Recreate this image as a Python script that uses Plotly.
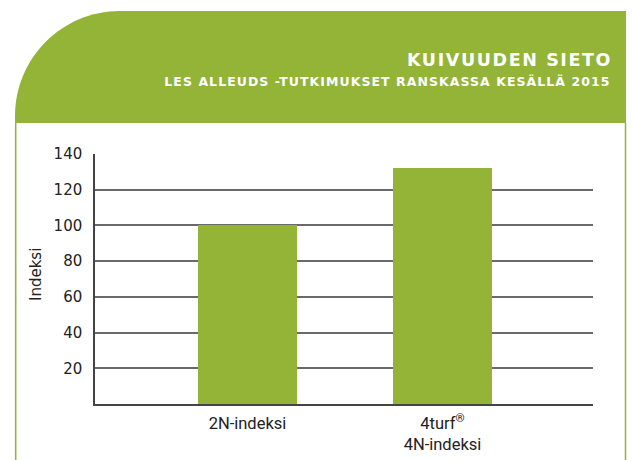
import plotly.graph_objects as go

categories = ["2N-indeksi", "4turf<sup>®</sup><br>4N-indeksi"]
values = [100, 132]
y_ticks = [20, 40, 60, 80, 100, 120, 140]
title_text = "KUIVUUDEN SIETO"
subtitle_text = "LES ALLEUDS -TUTKIMUKSET RANSKASSA KESÄLLÄ 2015"
y_title = "Indeksi"

GREEN = "#93b437"
W, H = 632, 460
L, R, T, B = 95, 593, 154, 404


def px(x):
    return (x - L) / (R - L)


def py(y):
    return (B - y) / (B - T)


positions = list(range(len(categories)))

fig = go.Figure(
    go.Bar(
        x=positions,
        y=values,
        width=0.508,
        marker=dict(color=GREEN, line=dict(width=0)),
        hoverinfo="skip",
    )
)

# header with rounded top-left corner
hx0, hx1, hy0, hy1, r = 15, 626, 11, 123, 105
k = 0.5523 * r
path = (
    f"M {px(hx0)},{py(hy1)} "
    f"L {px(hx0)},{py(hy0 + r)} "
    f"C {px(hx0)},{py(hy0 + r - k)} {px(hx0 + r - k)},{py(hy0)} {px(hx0 + r)},{py(hy0)} "
    f"L {px(hx1)},{py(hy0)} L {px(hx1)},{py(hy1)} Z"
)
shapes = [
    dict(type="path", xref="paper", yref="paper", path=path,
         fillcolor=GREEN, line=dict(width=0), layer="below"),
    dict(type="line", xref="paper", yref="paper", x0=px(15.7), x1=px(15.7),
         y0=py(hy1), y1=py(462), line=dict(color=GREEN, width=1.5)),
    dict(type="line", xref="paper", yref="paper", x0=px(625.5), x1=px(625.5),
         y0=py(hy1), y1=py(462), line=dict(color=GREEN, width=1.5)),
]

LS_TITLE, LS_SUB = 1.6, 1.05
annotations = [
    dict(text=title_text, xref="paper", yref="paper",
         x=px(612 - len(title_text) * LS_TITLE / 2 + LS_TITLE), y=py(59.5),
         xanchor="right", yanchor="middle", showarrow=False,
         font=dict(family="DejaVu Sans", size=17.5, color="white", weight="bold")),
    dict(text=subtitle_text, xref="paper", yref="paper",
         x=px(612 - len(subtitle_text) * LS_SUB / 2 + LS_SUB), y=py(82),
         xanchor="right", yanchor="middle", showarrow=False,
         font=dict(family="DejaVu Sans", size=12.5, color="white", weight="bold")),
    dict(text=y_title, xref="paper", yref="paper", x=px(36), y=py(275),
         xanchor="center", yanchor="middle", showarrow=False, textangle=-90,
         font=dict(family="DejaVu Sans", size=15, color="#222222")),
]

fig.update_layout(
    width=W, height=H,
    margin=dict(l=L, r=W - R, t=T, b=H - B, pad=0, autoexpand=False),
    paper_bgcolor="white", plot_bgcolor="white",
    showlegend=False,
    shapes=shapes,
    annotations=annotations,
    bargap=0,
)

fig.update_xaxes(
    range=[-0.782, 1.772],
    tickvals=positions, ticktext=categories,
    showgrid=False, zeroline=False,
    showline=True, linecolor="#444444", linewidth=1.5,
    ticks="", ticklabelstandoff=3, automargin=False,
    tickfont=dict(family="Roboto", size=16.5, color="#222222"),
    fixedrange=True,
)
fig.update_yaxes(
    range=[0, 140],
    tickvals=y_ticks,
    showgrid=True, gridcolor="#6a6a6a", gridwidth=1.5,
    zeroline=False,
    showline=True, linecolor="#444444", linewidth=1.5,
    ticks="", ticklabelstandoff=8, automargin=False,
    tickfont=dict(family="DejaVu Sans", size=15, color="#222222"),
    fixedrange=True,
)

post = """
document.body.style.margin = '0';
document.body.style.overflow = 'hidden';
var t = document.querySelectorAll('.annotation-text');
if (t.length > 1) {
  t[0].style.letterSpacing = '%spx';
  t[1].style.letterSpacing = '%spx';
}
""" % (LS_TITLE, LS_SUB)

fig.write_html("out.html", config={"displayModeBar": False}, post_script=post)
